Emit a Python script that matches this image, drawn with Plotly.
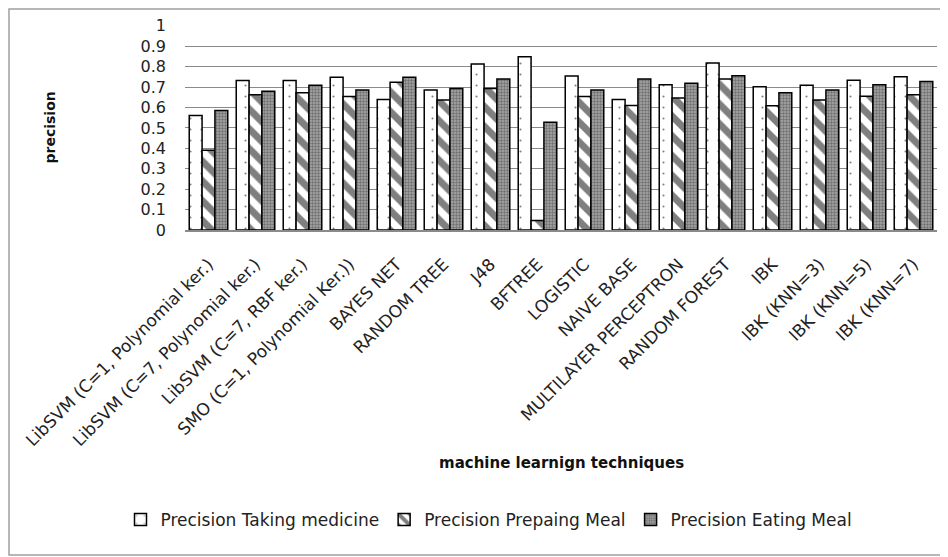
import plotly.graph_objects as go

categories = [
    "LibSVM (C=1, Polynomial ker.)", "LibSVM (C=7, Polynomial ker.)", "LibSVM (C=7, RBF ker.)",
    "SMO (C=1, Polynomial Ker.))", "BAYES NET", "RANDOM TREE", "J48", "BFTREE", "LOGISTIC",
    "NAIVE BASE", "MULTILAYER PERCEPTRON", "RANDOM FOREST", "IBK", "IBK (KNN=3)",
    "IBK (KNN=5)", "IBK (KNN=7)",
]
taking_medicine = [0.561, 0.732, 0.732, 0.748, 0.639, 0.686, 0.813, 0.849, 0.754, 0.639, 0.711, 0.818, 0.701, 0.709, 0.733, 0.750]
preparing_meal = [0.390, 0.662, 0.672, 0.654, 0.724, 0.637, 0.693, 0.046, 0.654, 0.610, 0.646, 0.740, 0.608, 0.637, 0.655, 0.662]
eating_meal = [0.585, 0.680, 0.709, 0.686, 0.748, 0.693, 0.740, 0.528, 0.686, 0.740, 0.719, 0.756, 0.672, 0.686, 0.711, 0.727]
series_names = ["Precision Taking medicine", "Precision Prepaing Meal", "Precision Eating Meal"]
y_ticks = [0, 0.1, 0.2, 0.3, 0.4, 0.5, 0.6, 0.7, 0.8, 0.9, 1]

# page body has an 8px margin, so the figure is drawn 8px smaller and offset
OFF = 8
W, H = 948 - OFF, 557 - OFF
L, R, T, B = 185 - OFF, 11, 25 - OFF, 327
pw, ph = W - L - R, H - T - B

def px_x(x):
    return (x - OFF - L) / pw

def px_y(y):
    return (H - B - (y - OFF)) / ph

font = "DejaVu Sans, sans-serif"

fig = go.Figure()
fig.add_trace(go.Bar(
    x=categories, y=taking_medicine, name=series_names[0],
    marker=dict(color="white", line=dict(color="black", width=1.5),
                pattern=dict(shape=".", fgcolor="black", bgcolor="white", size=11, solidity=0.03)),
))
fig.add_trace(go.Bar(
    x=categories, y=preparing_meal, name=series_names[1],
    marker=dict(color="white", line=dict(color="black", width=1.5),
                pattern=dict(shape="\\", fgcolor="black", bgcolor="white", size=14, solidity=0.5)),
))
fig.add_trace(go.Bar(
    x=categories, y=eating_meal, name=series_names[2],
    marker=dict(color="#808080", line=dict(color="black", width=1.5),
                pattern=dict(shape=".", fgcolor="#3a3a3a", bgcolor="#a8a8a8", size=3, solidity=0.5)),
))

fig.update_layout(
    width=W, height=H,
    margin=dict(l=L, r=R, t=T, b=B, autoexpand=False),
    paper_bgcolor="white", plot_bgcolor="white",
    barmode="group", bargap=0.18, bargroupgap=0.0,
    font=dict(family=font, color="#222222", size=13),
    showlegend=True,
    legend=dict(orientation="h", xref="container", yref="container",
                x=(489 - OFF) / W, xanchor="center", y=1 - (520 - OFF) / H, yanchor="middle",
                font=dict(size=17, family=font, color="#222222"),
                itemwidth=30, traceorder="normal", tracegroupgap=0),
    shapes=[dict(type="rect", xref="paper", yref="paper",
                 x0=px_x(OFF + 1), x1=px_x(946), y0=px_y(555), y1=px_y(OFF + 1),
                 line=dict(color="#a0a0a0", width=1.5), fillcolor="rgba(0,0,0,0)", layer="below")],
    annotations=[
        dict(text="<b>precision</b>", xref="paper", yref="paper", x=px_x(49), y=0.5,
             xanchor="center", yanchor="middle",
             textangle=-90, showarrow=False, font=dict(size=14, family=font, color="#111111")),
        dict(text="<b>machine learnign techniques</b>", xref="paper", yref="paper",
             x=0.5, y=px_y(463), xanchor="center", yanchor="middle",
             showarrow=False, font=dict(size=15, family=font, color="#111111")),
    ],
)
fig.update_xaxes(
    tickangle=-45, showgrid=False, showline=True, linecolor="#8a8a8a", linewidth=1.5,
    ticks="", ticklabelstandoff=16, tickfont=dict(size=17, family=font, color="#222222"),
    automargin=False,
)
fig.update_yaxes(
    range=[0, 1.004], tickvals=y_ticks, ticktext=[f"{v:g}" for v in y_ticks],
    showgrid=True, gridcolor="#8a8a8a", gridwidth=1, zeroline=False, showline=False,
    ticks="", ticklabelstandoff=18, tickfont=dict(size=16, family=font, color="#222222"),
    automargin=False,
)
fig.write_html("out.html")
